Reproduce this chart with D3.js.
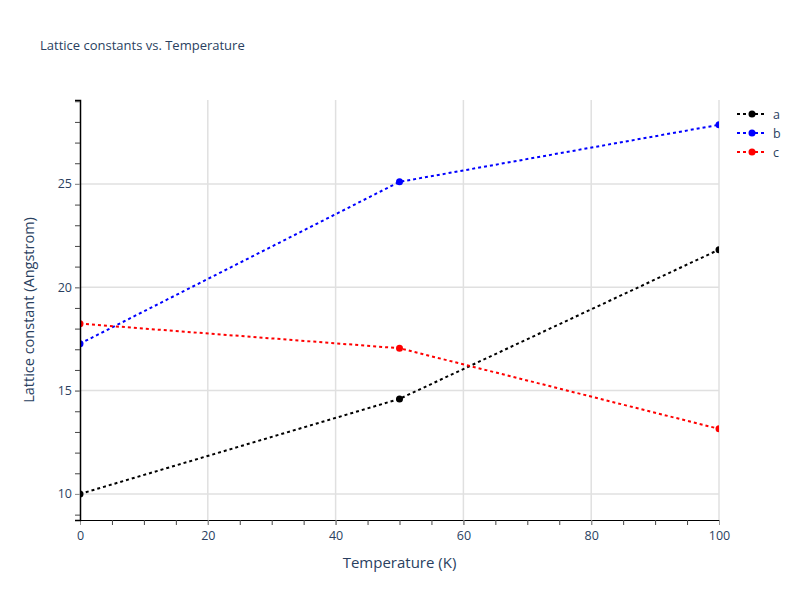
<!DOCTYPE html>
<html>
<head>
<meta charset="utf-8">
<script src="https://cdn.jsdelivr.net/npm/d3@7"></script>
<style>
  body { margin: 0; background: #fff; }
  text { font-family: "Open Sans", sans-serif; fill: #2a3f5f; }
</style>
</head>
<body>
<div id="chart"></div>
<script>
var svgWidth = 800;
var svgHeight = 600;

var margin = { top: 100, right: 81, bottom: 80, left: 80 };
var width = svgWidth - margin.left - margin.right;
var height = svgHeight - margin.top - margin.bottom;

// data
var temperatures = [0, 50, 100];
var seriesNames = ["a", "b", "c"];
var seriesColors = ["black", "blue", "red"];
var aValues = [10.0, 14.6, 21.82];
var bValues = [17.27, 25.1, 27.86];
var cValues = [18.24, 17.05, 13.15];
var xTicks = [0, 20, 40, 60, 80, 100];
var yTicks = [10, 15, 20, 25];

var seriesValues = [aValues, bValues, cValues];

var svg = d3.select("#chart")
  .append("svg")
  .attr("width", svgWidth)
  .attr("height", svgHeight);

var chartGroup = svg.append("g")
  .attr("transform", `translate(${margin.left}, ${margin.top})`);

var xScale = d3.scaleLinear().domain([0, 100]).range([0, width]);
var yScale = d3.scaleLinear().domain([8.74, 29.06]).range([height, 0]);

// grid lines
chartGroup.append("g").selectAll("line")
  .data(xTicks.slice(1))
  .enter().append("line")
  .attr("x1", d => xScale(d)).attr("x2", d => xScale(d))
  .attr("y1", 0).attr("y2", height)
  .attr("stroke", "#e0e0e0").attr("stroke-width", 1.5);

chartGroup.append("g").selectAll("line")
  .data(yTicks)
  .enter().append("line")
  .attr("x1", 0).attr("x2", width)
  .attr("y1", d => yScale(d)).attr("y2", d => yScale(d))
  .attr("stroke", "#e0e0e0").attr("stroke-width", 1.5);

// clip so the edge markers get cut like the original
svg.append("defs").append("clipPath").attr("id", "plotclip")
  .append("rect").attr("width", width).attr("height", height);

var plotGroup = chartGroup.append("g").attr("clip-path", "url(#plotclip)");

var line = d3.line()
  .x((d, i) => xScale(temperatures[i]))
  .y(d => yScale(d));

seriesValues.forEach(function(vals, k) {
  plotGroup.append("path")
    .attr("d", line(vals))
    .attr("fill", "none")
    .attr("stroke", seriesColors[k])
    .attr("stroke-width", 2)
    .attr("stroke-dasharray", "3,3");

  plotGroup.selectAll(".pt" + k)
    .data(vals)
    .enter().append("circle")
    .attr("cx", (d, i) => xScale(temperatures[i]))
    .attr("cy", d => yScale(d))
    .attr("r", 3.5)
    .attr("fill", seriesColors[k]);
});

// x axis with minor ticks every 5
var xMinor = d3.range(0, 101, 5);
var xAxis = chartGroup.append("g")
  .attr("transform", `translate(0, ${height})`)
  .call(d3.axisBottom(xScale).tickValues(xMinor).tickSize(5).tickFormat(""));
xAxis.select(".domain").attr("stroke", "black").attr("stroke-width", 1);
xAxis.selectAll(".tick line").attr("stroke", "#444");

var xLabels = chartGroup.append("g")
  .attr("transform", `translate(0, ${height})`)
  .call(d3.axisBottom(xScale).tickValues(xTicks).tickSize(5).tickPadding(6));
xLabels.select(".domain").remove();
xLabels.selectAll(".tick line").attr("stroke", "#999");
xLabels.selectAll("text").attr("font-size", 12.5).attr("fill", "#2a3f5f")
  .attr("font-family", "Open Sans, sans-serif");

// y axis with minor ticks every 1
var yMinor = d3.range(9, 30, 1);
var yAxis = chartGroup.append("g")
  .call(d3.axisLeft(yScale).tickValues(yMinor).tickSize(5).tickFormat(""));
yAxis.select(".domain").attr("stroke", "black").attr("stroke-width", 1.5);
yAxis.selectAll(".tick line").attr("stroke", "#444");

var yLabels = chartGroup.append("g")
  .call(d3.axisLeft(yScale).tickValues(yTicks).tickSize(5).tickPadding(3));
yLabels.select(".domain").remove();
yLabels.selectAll(".tick line").attr("stroke", "#999");
yLabels.selectAll("text").attr("font-size", 12.5).attr("fill", "#2a3f5f")
  .attr("font-family", "Open Sans, sans-serif");

// titles
svg.append("text")
  .attr("x", 40).attr("y", 50)
  .attr("font-size", 13)
  .text("Lattice constants vs. Temperature");

svg.append("text")
  .attr("x", margin.left + width / 2).attr("y", 568)
  .attr("text-anchor", "middle")
  .attr("font-size", 15)
  .text("Temperature (K)");

svg.append("text")
  .attr("transform", `translate(34, ${margin.top + height / 2}) rotate(-90)`)
  .attr("text-anchor", "middle")
  .attr("font-size", 14.5)
  .text("Lattice constant (Angstrom)");

// legend
var legend = svg.append("g").attr("transform", "translate(737, 114)");
seriesNames.forEach(function(name, k) {
  var row = legend.append("g").attr("transform", `translate(0, ${k * 19})`);
  row.append("line")
    .attr("x1", 0).attr("x2", 30).attr("y1", 0).attr("y2", 0)
    .attr("stroke", seriesColors[k]).attr("stroke-width", 2)
    .attr("stroke-dasharray", "3,3");
  row.append("circle").attr("cx", 15).attr("cy", 0).attr("r", 3.5)
    .attr("fill", seriesColors[k]);
  row.append("text").attr("x", 36).attr("y", 4.5)
    .attr("font-size", 12.5).text(name);
});
</script>
</body>
</html>
